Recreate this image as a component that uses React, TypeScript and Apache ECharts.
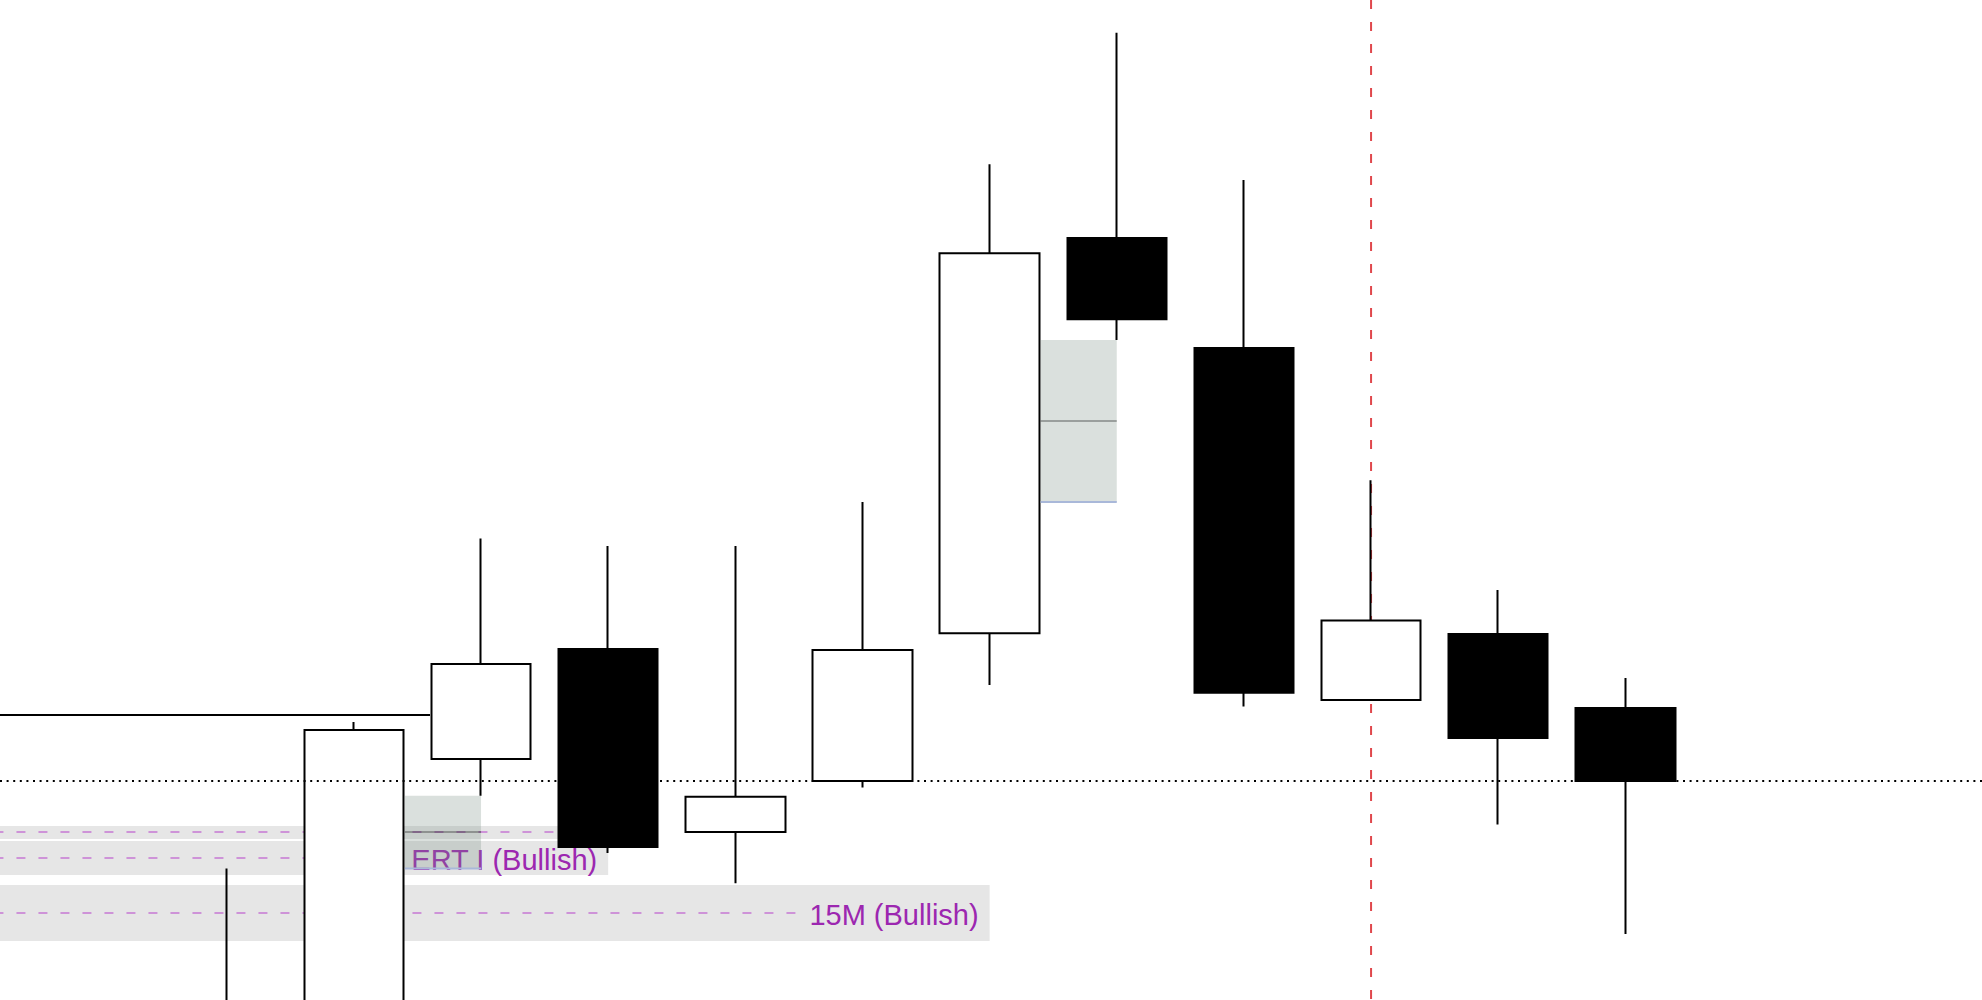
import React, { useEffect, useRef } from 'react';
import * as echarts from 'echarts';

// ---- candle data (index, open, close, low, high) ----
const candleIndex = [0, 1, 2, 3, 4, 5, 6, 7, 8, 9, 10, 11];
const opens = [-80, -60, 241, 351, 168, 219, 366.7, 762, 652, 300, 366, 292];
const closes = [-20, 270, 336, 153, 203.3, 350, 746.7, 680.7, 307.3, 379.5, 262, 219];
const lows = [-100, -80, 204.3, 147, 116.7, 212.5, 315, 660, 293.4, 300, 175.4, 66];
const highs = [131.5, 278, 461.5, 454, 454, 498, 835.7, 967.3, 820, 519.8, 410, 322];

// ---- fair value gaps (middle candle index, top, bottom) ----
const fvgCandle = [1, 6];
const fvgTop = [204.3, 660];
const fvgBottom = [131.5, 498];

// ---- zones (start index, end index, top, bottom, level, label) ----
const zoneStart = [-2, -2, -2];
const zoneEnd = [3, 3, 6];
const zoneTop = [174, 159, 115];
const zoneBottom = [161, 125, 59];
const zoneLevel = [168, 142, 87];
const zoneLabels = ['', '5M ERT I (Bullish)', '15M (Bullish)'];

// ---- levels ----
const levelValue = [285];
const levelEndCandle = [2];
const dottedLevel = [219];
const sessionCandle = [9];

const X_MIN = -1.7833;
const X_MAX = 13.805;
const Y_MIN = 0;
const Y_MAX = 1000;
const BODY_HALF = 51;
const FONT = 'Liberation Sans';
const FONT_SIZE = 29;

let measureCtx: CanvasRenderingContext2D | null = null;
function measure(text: string): number {
  if (!measureCtx) {
    measureCtx = document.createElement('canvas').getContext('2d');
  }
  if (!measureCtx) return text.length * 13;
  measureCtx.font = `${FONT_SIZE}px "${FONT}"`;
  return measureCtx.measureText(text).width;
}

export default function App() {
  const ref = useRef<HTMLDivElement>(null);

  useEffect(() => {
    document.body.style.margin = '0';
    document.body.style.padding = '0';
    if (!ref.current) return;
    const chart = echarts.init(ref.current, null, { renderer: 'svg' });

    const candleData = candleIndex.map((i, k) => [i, opens[k], closes[k], lows[k], highs[k]]);
    const zoneData = zoneStart.map((s, k) => [s, zoneEnd[k], zoneTop[k], zoneBottom[k], zoneLevel[k]]);
    const fvgData = fvgCandle.map((c, k) => [c, c + 1, fvgTop[k], fvgBottom[k]]);

    const option: any = {
      animation: false,
      backgroundColor: '#ffffff',
      grid: { left: 0, right: 0, top: 0, bottom: 0, containLabel: false },
      xAxis: {
        type: 'value', min: X_MIN, max: X_MAX, show: false,
        splitLine: { show: false },
      },
      yAxis: {
        type: 'value', min: Y_MIN, max: Y_MAX, show: false,
        splitLine: { show: false },
      },
      tooltip: { show: false },
      series: [
        {
          type: 'custom',
          name: 'zones',
          z: 1,
          silent: true,
          data: zoneData,
          renderItem: (params: any, api: any) => {
            const i = params.dataIndex;
            const pTop = api.coord([api.value(0), api.value(2)]);
            const pBot = api.coord([api.value(1), api.value(3)]);
            const yMid = api.coord([0, api.value(4)])[1];
            const children: any[] = [
              {
                type: 'rect',
                shape: { x: pTop[0], y: pTop[1], width: pBot[0] - pTop[0], height: pBot[1] - pTop[1] },
                style: { fill: '#e6e6e6' },
              },
            ];
            const label = zoneLabels[i];
            let lineEnd = pBot[0];
            if (label) {
              const tx = pBot[0] - 11;
              lineEnd = tx - measure(label) - 14;
              children.push({
                type: 'text',
                x: tx,
                y: yMid + 2,
                style: {
                  text: label, fill: '#9c27b0', fontSize: FONT_SIZE, fontFamily: FONT,
                  align: 'right', verticalAlign: 'middle',
                },
              });
            }
            children.push({
              type: 'line',
              shape: { x1: pTop[0], y1: yMid, x2: lineEnd, y2: yMid },
              style: { stroke: '#ce93d8', lineWidth: 2, lineDash: [9, 13] },
            });
            return { type: 'group', children };
          },
        },
        {
          type: 'custom',
          name: 'session',
          z: 1,
          silent: true,
          data: sessionCandle.map((c) => [c]),
          renderItem: (params: any, api: any) => {
            const top = api.coord([api.value(0), Y_MAX]);
            const bot = api.coord([api.value(0), Y_MIN]);
            return {
              type: 'line',
              shape: { x1: top[0], y1: top[1], x2: bot[0], y2: bot[1] },
              style: { stroke: '#e0474c', lineWidth: 2, lineDash: [9, 13] },
            };
          },
        },
        {
          type: 'candlestick',
          name: 'price',
          z: 2,
          silent: true,
          clip: true,
          barWidth: 100,
          data: candleData,
          encode: { x: 0, y: [1, 2, 3, 4] },
          itemStyle: {
            color: '#ffffff',
            color0: '#000000',
            borderColor: '#000000',
            borderColor0: '#000000',
            borderWidth: 2,
          },
        },
        {
          type: 'custom',
          name: 'fvg',
          z: 3,
          silent: true,
          data: fvgData,
          renderItem: (params: any, api: any) => {
            const pTop = api.coord([api.value(0), api.value(2)]);
            const pBot = api.coord([api.value(1), api.value(3)]);
            const x0 = pTop[0] + BODY_HALF;
            const x1 = pBot[0];
            const yMid = (pTop[1] + pBot[1]) / 2;
            return {
              type: 'group',
              children: [
                {
                  type: 'rect',
                  shape: { x: x0, y: pTop[1], width: x1 - x0, height: pBot[1] - pTop[1] },
                  style: { fill: 'rgba(120,140,128,0.27)' },
                },
                {
                  type: 'line',
                  shape: { x1: x0, y1: yMid, x2: x1, y2: yMid },
                  style: { stroke: 'rgba(0,0,0,0.29)', lineWidth: 2 },
                },
                {
                  type: 'line',
                  shape: { x1: x0, y1: pBot[1], x2: x1, y2: pBot[1] },
                  style: { stroke: '#a9b8d9', lineWidth: 2 },
                },
              ],
            };
          },
        },
        {
          type: 'custom',
          name: 'level',
          z: 4,
          silent: true,
          data: levelValue.map((v, k) => [levelEndCandle[k], v]),
          renderItem: (params: any, api: any) => {
            const end = api.coord([api.value(0), api.value(1)]);
            const start = api.coord([X_MIN - 1, api.value(1)]);
            return {
              type: 'line',
              shape: { x1: start[0], y1: start[1], x2: end[0] - BODY_HALF, y2: end[1] },
              style: { stroke: '#000000', lineWidth: 2 },
            };
          },
        },
        {
          type: 'custom',
          name: 'dotted',
          z: 4,
          silent: true,
          data: dottedLevel.map((v) => [v]),
          renderItem: (params: any, api: any) => {
            const a = api.coord([X_MIN, api.value(0)]);
            const b = api.coord([X_MAX, api.value(0)]);
            return {
              type: 'line',
              shape: { x1: a[0], y1: a[1], x2: b[0], y2: b[1] },
              style: { stroke: '#000000', lineWidth: 2, lineDash: [2, 4.6] },
            };
          },
        },
      ],
    };

    chart.setOption(option);
    return () => {
      chart.dispose();
    };
  }, []);

  return (
    <div
      ref={ref}
      style={{ position: 'relative', width: '1982px', height: '1000px', background: '#fff', overflow: 'hidden' }}
    />
  );
}
